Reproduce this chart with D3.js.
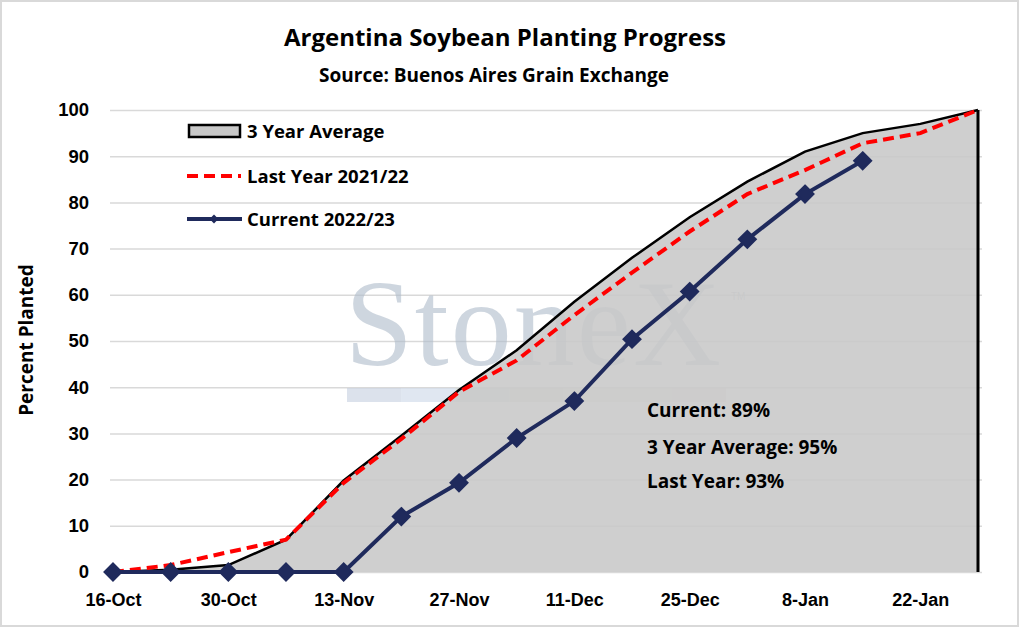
<!DOCTYPE html>
<html>
<head>
<meta charset="utf-8">
<style>
    body { margin: 0; background: #fff; }
    svg { display: block; font-family: "Open Sans", "Lato", sans-serif; font-weight: bold; }
    .grid line { stroke: #d9d9d9; stroke-width: 1.5px; }
    .grid .domain { display: none; }
    .y .domain, .x .domain { display: none; }
    .y .tick line, .x .tick line { display: none; }
    .y .tick text { font-size: 18.5px; fill: #000; }
    .x .tick text { font-size: 18px; fill: #000; }
</style>
</head>
<body>
<svg width="1019" height="627"></svg>
<script src="https://d3js.org/d3.v7.min.js"></script>
<script>
// weekly report dates
let weeks = ["2022-10-16","2022-10-23","2022-10-30","2022-11-06","2022-11-13","2022-11-20","2022-11-27",
             "2022-12-04","2022-12-11","2022-12-18","2022-12-25","2023-01-01","2023-01-08","2023-01-15",
             "2023-01-22","2023-01-29"];
let avg3yr   = [0, 0.5, 1.5, 7, 19.8, 29.5, 39.4, 48, 58.5, 68, 76.8, 84.5, 91, 95, 97, 100];
let lastYear = [0, 1.5, 4.3, 7, 19.3, 28.8, 39, 45.8, 55.6, 64.8, 73.7, 81.8, 87, 92.8, 95, 100];
let current  = [0, 0, 0, 0, 0, 12, 19.3, 29, 37, 50.4, 60.7, 72, 81.8, 89];
let xTickDates = ["2022-10-16","2022-10-30","2022-11-13","2022-11-27","2022-12-11","2022-12-25","2023-01-08","2023-01-22"];
let yTicks = [0, 10, 20, 30, 40, 50, 60, 70, 80, 90, 100];
let notes = ["Current: 89%", "3 Year Average: 95%", "Last Year: 93%"];

let parse = d3.timeParse("%Y-%m-%d");
let dates = weeks.map(parse);

let svg = d3.select("svg");
let width = 1019, height = 627;

// outer border
svg.append("rect")
    .attr("x", 1).attr("y", 1)
    .attr("width", width - 2).attr("height", height - 2)
    .style("fill", "#fff").style("stroke", "#d9d9d9").style("stroke-width", 2)

let x = d3.scaleTime()
    .domain([dates[0], dates[dates.length - 1]])
    .range([113, 978])

let y = d3.scaleLinear()
    .domain([0, 100])
    .range([572, 110])

// gridlines
svg.append("g")
    .attr("class", "grid")
    .attr("transform", "translate(110,0)")
    .call(d3.axisRight(y).tickValues(yTicks).tickSize(872).tickFormat(""))

// watermark
let wm = svg.append("g").style("pointer-events", "none")
wm.append("text")
    .attr("x", 345).attr("y", 365)
    .attr("textLength", 376)
    .text("StoneX")
    .style("font-family", "Liberation Serif, DejaVu Serif, serif")
    .style("font-weight", "normal")
    .style("font-size", "122px")
    .style("fill", "#afbccb")
    .style("opacity", 0.6)
wm.append("text")
    .attr("x", 731).attr("y", 300)
    .text("TM")
    .style("font-family", "Liberation Sans, sans-serif")
    .style("font-weight", "normal")
    .style("font-size", "10px")
    .style("fill", "#c8ccd2")
let wmColors = ["#bfcbdc", "#c6d4e6", "#c5cec8", "#c8d2c2", "#dcdcc8", "#e0d8c8", "#e0c8c8"];
let wmBar = d3.scaleBand().domain(d3.range(wmColors.length)).range([347, 726])
wm.selectAll(".wmbar")
    .data(wmColors)
    .join("rect")
    .attr("x", (d, i) => wmBar(i))
    .attr("y", 388)
    .attr("width", wmBar.bandwidth())
    .attr("height", 14)
    .style("fill", d => d)
    .style("opacity", 0.55)

// 3 year average area
let avgData = dates.map((d, i) => ({ date: d, v: avg3yr[i] }))
let area = d3.area()
    .x(d => x(d.date))
    .y0(y(0))
    .y1(d => y(d.v))

svg.append("path")
    .datum(avgData)
    .attr("d", area)
    .style("fill", "#c8c8c8")
    .style("opacity", 0.88)

let avgLine = d3.line().x(d => x(d.date)).y(d => y(d.v))
svg.append("path")
    .datum(avgData)
    .attr("d", avgLine)
    .style("fill", "none")
    .style("stroke", "#000")
    .style("stroke-width", 2.5)

svg.append("line")
    .attr("x1", x(dates[dates.length - 1])).attr("x2", x(dates[dates.length - 1]))
    .attr("y1", y(100)).attr("y2", y(0))
    .style("stroke", "#000")
    .style("stroke-width", 3)

// last year
let lyData = dates.map((d, i) => ({ date: d, v: lastYear[i] }))
svg.append("path")
    .datum(lyData)
    .attr("d", avgLine)
    .style("fill", "none")
    .style("stroke", "#ff0000")
    .style("stroke-width", 4)
    .style("stroke-dasharray", "11,6")

// current
let curData = current.map((v, i) => ({ date: dates[i], v: v }))
svg.append("path")
    .datum(curData)
    .attr("d", avgLine)
    .style("fill", "none")
    .style("stroke", "#1f2a5c")
    .style("stroke-width", 4)

let diamond = d3.symbol().type(d3.symbolDiamond2).size(185)
svg.selectAll(".marker")
    .data(curData)
    .join("path")
    .attr("class", "marker")
    .attr("transform", d => `translate(${x(d.date)},${y(d.v)})`)
    .attr("d", diamond)
    .style("fill", "#1f2a5c")
    .style("stroke", "#1f2a5c")
    .style("stroke-width", 2)

// axes
svg.append("g")
    .attr("class", "y axis")
    .attr("transform", "translate(97,0)")
    .call(d3.axisLeft(y).tickValues(yTicks).tickSize(0).tickPadding(8))

svg.append("g")
    .attr("class", "x axis")
    .attr("transform", "translate(0,590)")
    .call(d3.axisBottom(x)
        .tickValues(xTickDates.map(parse))
        .tickSize(0)
        .tickPadding(3)
        .tickFormat(d3.timeFormat("%-d-%b")))

// titles
svg.append("text")
    .attr("x", 505).attr("y", 46)
    .attr("text-anchor", "middle")
    .text("Argentina Soybean Planting Progress")
    .style("font-size", "24px")

svg.append("text")
    .attr("x", 494).attr("y", 82)
    .attr("text-anchor", "middle")
    .text("Source: Buenos Aires Grain Exchange")
    .style("font-size", "19px")

svg.append("text")
    .attr("transform", "translate(33,340) rotate(-90)")
    .attr("text-anchor", "middle")
    .text("Percent Planted")
    .style("font-size", "19px")

// legend
let lg = svg.append("g")
lg.append("rect")
    .attr("x", 189).attr("y", 125).attr("width", 51).attr("height", 12)
    .style("fill", "#c8c8c8").style("stroke", "#000").style("stroke-width", 2.5)
lg.append("line")
    .attr("x1", 187).attr("x2", 241).attr("y1", 176).attr("y2", 176)
    .style("stroke", "#ff0000").style("stroke-width", 4).style("stroke-dasharray", "11,6")
lg.append("line")
    .attr("x1", 187).attr("x2", 242).attr("y1", 219).attr("y2", 219)
    .style("stroke", "#1f2a5c").style("stroke-width", 4)
lg.append("path")
    .attr("transform", "translate(214,219)")
    .attr("d", d3.symbol().type(d3.symbolDiamond2).size(50))
    .style("fill", "#1f2a5c")
let legendNames = ["3 Year Average", "Last Year 2021/22", "Current 2022/23"];
lg.selectAll(".ltext")
    .data(legendNames)
    .join("text")
    .attr("x", 247)
    .attr("y", (d, i) => [138, 183, 226][i])
    .text(d => d)
    .style("font-size", "18.5px")

// notes
svg.selectAll(".note")
    .data(notes)
    .join("text")
    .attr("class", "note")
    .attr("x", 647)
    .attr("y", (d, i) => [417, 454, 488][i])
    .text(d => d)
    .style("font-size", "19px")
</script>
</body>
</html>
